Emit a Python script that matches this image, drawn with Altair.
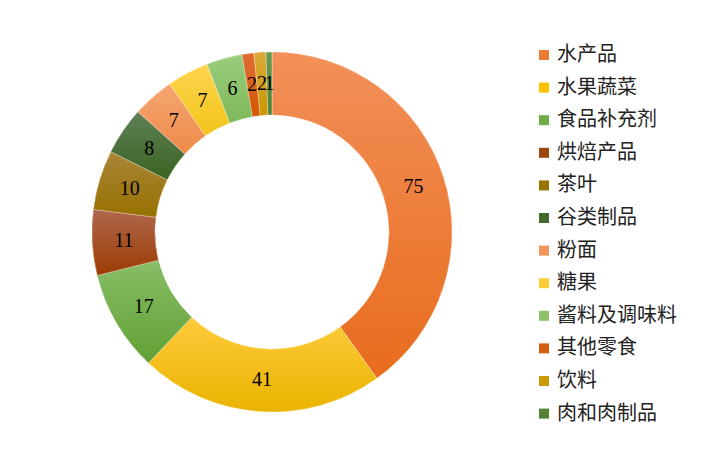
import math
import altair as alt
import pandas as pd

categories = ["水产品", "水果蔬菜", "食品补充剂", "烘焙产品", "茶叶", "谷类制品",
              "粉面", "糖果", "酱料及调味料", "其他零食", "饮料", "肉和肉制品"]
values = [75, 41, 17, 11, 10, 8, 7, 7, 6, 2, 2, 1]
base_colors = ["#ED7D31", "#FFC000", "#70AD47", "#9E480E", "#997300", "#43682B",
               "#F1975A", "#FFCD33", "#8CC168", "#D2600F", "#CC9A06", "#548235"]
top_colors = ["#F29059", "#FFCB3C", "#88BE66", "#B0674C", "#A98638", "#5F7F57",
              "#F6A673", "#FFD44E", "#9ACD7C", "#E06C36", "#DBA93A", "#6C9B52"]
bottom_colors = ["#E86C1D", "#EAB300", "#61A035", "#9A3C02", "#977000", "#3A6420",
                 "#ED8A47", "#F3C41C", "#7EB85A", "#D35800", "#CB9800", "#4C8032"]

df = pd.DataFrame({"cat": categories, "value": values})
df["end"] = df["value"].cumsum()
df["start"] = df["end"] - df["value"]
df["mid"] = (df["start"] + df["end"]) / 2
total = int(df["value"].sum())

theta_scale = alt.Scale(domain=[0, total], range=[0, 2 * math.pi])
cx, cy = 264, 224
r_in, r_out = 117, 180

base = alt.Chart(df).mark_arc(innerRadius=r_in, outerRadius=r_out).encode(
    theta=alt.Theta("start:Q", scale=theta_scale, stack=None),
    theta2="end:Q",
    x=alt.value(cx),
    y=alt.value(cy),
    color=alt.Color(
        "cat:N",
        scale=alt.Scale(domain=categories, range=base_colors),
        legend=alt.Legend(
            title=None,
            orient="none",
            legendX=526,
            legendY=37,
            symbolType="square",
            symbolSize=100,
            symbolStrokeWidth=0,
            labelFont="Noto Sans CJK SC",
            labelFontSize=20,
            labelColor="#222222",
            labelOffset=3,
            rowPadding=12.6,
            padding=0,
        ),
    ),
)

layers = [base]
for i, c in enumerate(categories):
    grad = alt.LinearGradient(
        gradient="linear",
        x1=0, y1=0, x2=0, y2=1,
        stops=[alt.GradientStop(offset=0, color=top_colors[i]),
               alt.GradientStop(offset=1, color=bottom_colors[i])],
    )
    layers.append(
        alt.Chart(df).transform_filter(alt.datum.cat == c).mark_arc(
            innerRadius=r_in, outerRadius=r_out, color=grad,
            stroke="#ffffff", strokeWidth=0.6, strokeOpacity=0.6,
        ).encode(
            theta=alt.Theta("start:Q", scale=theta_scale, stack=None),
            theta2="end:Q",
            x=alt.value(cx),
            y=alt.value(cy),
        )
    )

labels = alt.Chart(df).mark_text(
    radius=(r_in + r_out) / 2, font="Liberation Serif", fontSize=20, color="#000000"
).encode(
    theta=alt.Theta("mid:Q", scale=theta_scale, stack=None),
    text="value:Q",
    x=alt.value(cx),
    y=alt.value(cy),
)
layers.append(labels)

chart = alt.layer(*layers).properties(
    width=700, height=448, padding=0, autosize="none", background="#ffffff"
).configure_view(stroke=None)

chart.save("out.html", embed_options={"renderer": "svg", "actions": False})
